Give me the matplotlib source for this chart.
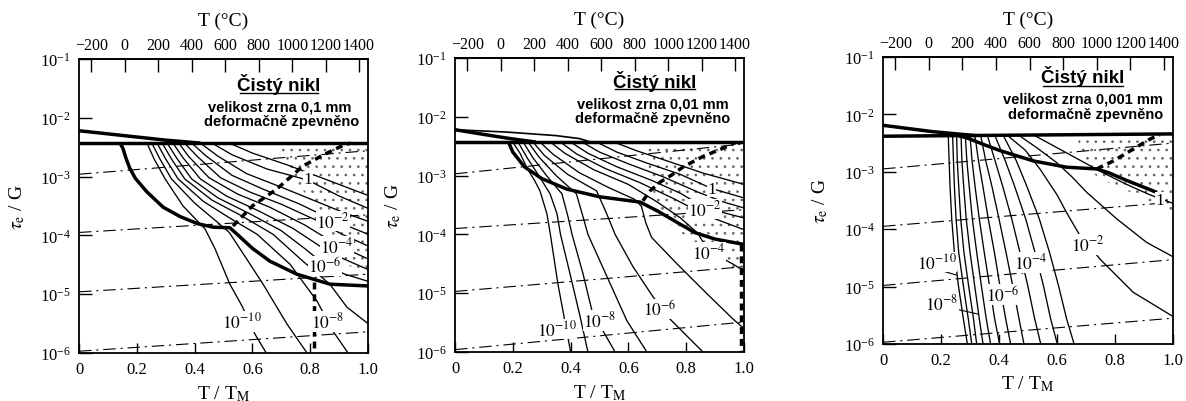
import matplotlib
matplotlib.use("Agg")
import matplotlib.pyplot as plt
from matplotlib.ticker import FixedLocator, NullLocator, LogFormatterMathtext

plt.rcParams['font.family'] = ['Liberation Serif', 'DejaVu Serif']
plt.rcParams['mathtext.fontset'] = 'stix'
plt.rcParams['lines.scale_dashes'] = False
plt.rcParams['hatch.linewidth'] = 0.7

# ---------------- common axis data ----------------
T_MELT_K = 1726.0
CELSIUS_TICKS = [-200, 0, 200, 400, 600, 800, 1000, 1200, 1400]
XTICKS = [0, 0.2, 0.4, 0.6, 0.8, 1.0]
XTICK_LABELS = ['0', '0.2', '0.4', '0.6', '0.8', '1.0']
Y_DECADES = [1e-6, 1e-5, 1e-4, 1e-3, 1e-2, 1e-1]
TITLE = 'Čistý nikl'
GRAIN_TEXT = ['velikost zrna 0,1 mm', 'velikost zrna 0,01 mm', 'velikost zrna 0,001 mm']
STATE_TEXT = 'deformačně zpevněno'

# points are (T/TM, log10(tau/G))
# ---------------- panel 1 (0.1 mm) ----------------
P1_HORIZ = [(0.0, -2.43), (1.0, -2.43)]
P1_WEDGE = [(0.0, -2.22), (0.15, -2.30), (0.30, -2.38), (0.42, -2.43)]
P1_BOUNDARY = [(0.142, -2.43), (0.152, -2.52), (0.162, -2.68), (0.175, -2.85), (0.195, -3.03),
               (0.235, -3.26), (0.291, -3.52), (0.35, -3.68), (0.41, -3.80), (0.464, -3.86),
               (0.522, -3.87), (0.547, -3.98), (0.60, -4.22), (0.661, -4.44), (0.754, -4.66),
               (0.869, -4.83), (1.0, -4.86)]
P1_DASHED = [(0.533, -3.84), (0.60, -3.50), (0.685, -3.21), (0.775, -2.82), (0.85, -2.62),
             (0.913, -2.47), (0.94, -2.43)]
P1_VDASH = [(0.813, -4.80), (0.813, -6.0)]
P1_DASHDOT = [[(0, -2.96), (1, -2.56)], [(0, -3.95), (1, -3.65)],
              [(0, -4.96), (1, -4.66)], [(0, -5.97), (1, -5.64)]]
P1_STIPPLE = [(0.68, -2.43), (1.0, -2.43), (1.0, -4.72), (0.93, -4.5), (0.87, -3.95),
              (0.80, -3.40), (0.73, -2.95), (0.69, -2.6)]
P1_CONTOURS = [
    [(0.235, -2.43), (0.26, -2.70), (0.298, -3.04), (0.36, -3.50), (0.436, -3.89), (0.471, -4.23),
     (0.522, -4.83), (0.564, -5.20), (0.609, -5.68), (0.648, -6.0)],
    [(0.252, -2.43), (0.28, -2.70), (0.32, -3.04), (0.40, -3.45), (0.48, -3.78), (0.52, -3.95),
     (0.58, -4.40), (0.637, -4.83), (0.72, -5.51), (0.789, -6.0)],
    [(0.270, -2.43), (0.30, -2.70), (0.343, -3.04), (0.43, -3.42), (0.52, -3.70), (0.616, -3.98),
     (0.73, -4.49), (0.824, -5.12), (0.879, -5.63), (0.931, -6.0)],
    [(0.288, -2.43), (0.32, -2.70), (0.366, -3.04), (0.46, -3.40), (0.56, -3.66), (0.671, -3.98),
     (0.775, -4.44), (0.868, -4.83), (0.927, -5.22), (1.0, -5.50)],
    [(0.305, -2.43), (0.34, -2.70), (0.39, -3.04), (0.48, -3.36), (0.59, -3.63), (0.70, -3.92),
     (0.78, -4.22), (0.851, -4.50), (0.92, -4.66), (1.0, -4.78)],
    [(0.325, -2.43), (0.36, -2.68), (0.42, -3.04), (0.51, -3.33), (0.62, -3.58), (0.74, -3.88),
     (0.87, -4.30), (1.0, -4.58)],
    [(0.345, -2.43), (0.38, -2.66), (0.45, -3.02), (0.55, -3.30), (0.66, -3.52), (0.78, -3.82),
     (0.893, -4.16), (1.0, -4.40)],
    [(0.365, -2.43), (0.41, -2.66), (0.49, -3.02), (0.59, -3.26), (0.70, -3.47), (0.82, -3.74),
     (0.91, -3.98), (1.0, -4.18)],
    [(0.39, -2.43), (0.44, -2.65), (0.53, -2.98), (0.64, -3.22), (0.76, -3.46), (0.879, -3.74),
     (1.0, -3.98)],
    [(0.42, -2.43), (0.48, -2.65), (0.58, -2.95), (0.70, -3.18), (0.82, -3.42), (0.92, -3.62),
     (1.0, -3.76)],
    [(0.46, -2.43), (0.53, -2.63), (0.65, -2.87), (0.792, -3.06), (0.90, -3.33), (1.0, -3.54)],
    [(0.52, -2.43), (0.60, -2.60), (0.72, -2.80), (0.85, -3.04), (1.0, -3.32)],
]
P1_LABELS = [('1', 0.792, -3.04), ('$10^{-2}$', 0.879, -3.755), ('$10^{-4}$', 0.893, -4.18),
             ('$10^{-6}$', 0.851, -4.52), ('$10^{-8}$', 0.862, -5.46), ('$10^{-10}$', 0.564, -5.47)]

# ---------------- panel 2 (0.01 mm) ----------------
P2_HORIZ = [(0.0, -2.43), (1.0, -2.43)]
P2_WEDGE = [(0.0, -2.22), (0.10, -2.30), (0.19, -2.37), (0.28, -2.43)]
P2_LENS = [(0.0, -2.22), (0.18, -2.26), (0.35, -2.32), (0.43, -2.37), (0.47, -2.43)]
P2_BOUNDARY = [(0.185, -2.43), (0.20, -2.60), (0.24, -2.85), (0.30, -3.05), (0.387, -3.23),
               (0.50, -3.36), (0.64, -3.45), (0.70, -3.60), (0.77, -3.80), (0.83, -3.97),
               (0.90, -4.08), (1.0, -4.17)]
P2_DASHED = [(0.65, -3.43), (0.675, -3.26), (0.71, -3.11), (0.75, -2.99), (0.79, -2.85),
             (0.86, -2.67), (0.92, -2.55), (0.97, -2.44)]
P2_VDASH = [(0.988, -4.17), (0.988, -6.0)]
P2_DASHDOT = [[(0, -2.97), (1, -2.46)], [(0, -3.90), (1, -3.58)],
              [(0, -4.97), (1, -4.55)], [(0, -5.96), (1, -5.49)]]
P2_STIPPLE = [(0.66, -2.43), (1.0, -2.43), (1.0, -4.75), (0.95, -4.55), (0.85, -4.2),
              (0.76, -3.9), (0.70, -3.5), (0.67, -3.0)]
P2_CONTOURS = [
    [(0.20, -2.43), (0.225, -2.62), (0.25, -2.88), (0.275, -3.08), (0.294, -3.26), (0.318, -3.65),
     (0.33, -4.0), (0.356, -4.84), (0.38, -5.47), (0.40, -6.0)],
    [(0.218, -2.43), (0.25, -2.70), (0.29, -3.00), (0.329, -3.31), (0.353, -3.65), (0.365, -4.0),
     (0.398, -4.67), (0.433, -5.40), (0.46, -6.0)],
    [(0.236, -2.43), (0.27, -2.70), (0.32, -3.02), (0.37, -3.31), (0.391, -3.70), (0.405, -4.0),
     (0.443, -4.67), (0.474, -5.30), (0.512, -5.64), (0.554, -6.0)],
    [(0.253, -2.43), (0.29, -2.68), (0.35, -3.00), (0.42, -3.31), (0.443, -3.70), (0.46, -4.0),
     (0.526, -4.72), (0.595, -5.47), (0.664, -6.0)],
    [(0.27, -2.43), (0.31, -2.66), (0.39, -2.98), (0.49, -3.26), (0.525, -3.65), (0.554, -4.0),
     (0.616, -4.55), (0.685, -5.06), (0.744, -5.44), (0.858, -6.0)],
    [(0.294, -2.43), (0.34, -2.64), (0.43, -2.95), (0.53, -3.20), (0.62, -3.40), (0.645, -3.52),
     (0.66, -3.80), (0.68, -4.05), (0.768, -4.50), (0.872, -5.01), (0.962, -5.44), (1.0, -5.60)],
    [(0.33, -2.43), (0.38, -2.62), (0.48, -2.90), (0.60, -3.15), (0.70, -3.45), (0.78, -3.72),
     (0.84, -3.98), (0.877, -4.28), (0.96, -4.50), (1.0, -4.62)],
    [(0.365, -2.43), (0.42, -2.63), (0.52, -2.88), (0.64, -3.12), (0.76, -3.40), (0.87, -3.68),
     (1.0, -3.92)],
    [(0.40, -2.43), (0.46, -2.62), (0.56, -2.85), (0.68, -3.08), (0.78, -3.30), (0.865, -3.55),
     (1.0, -3.72)],
    [(0.44, -2.43), (0.50, -2.60), (0.60, -2.80), (0.72, -3.02), (0.84, -3.28), (0.93, -3.45),
     (1.0, -3.55)],
    [(0.49, -2.43), (0.56, -2.60), (0.66, -2.78), (0.78, -2.98), (0.888, -3.22), (1.0, -3.38)],
    [(0.55, -2.43), (0.63, -2.58), (0.74, -2.76), (0.86, -2.96), (1.0, -3.15)],
]
P2_LABELS = [('1', 0.888, -3.228), ('$10^{-2}$', 0.865, -3.568), ('$10^{-4}$', 0.877, -4.305),
             ('$10^{-6}$', 0.709, -5.27), ('$10^{-8}$', 0.502, -5.47), ('$10^{-10}$', 0.352, -5.61)]

# ---------------- panel 3 (0.001 mm) ----------------
P3_HORIZ = [(0.0, -2.38), (1.0, -2.34)]
P3_WEDGE = [(0.0, -2.19), (0.17, -2.30), (0.32, -2.37)]
P3_BOUNDARY = [(0.26, -2.37), (0.29, -2.41), (0.35, -2.53), (0.403, -2.63), (0.518, -2.81),
               (0.633, -2.92), (0.737, -2.95), (0.78, -3.02), (0.84, -3.15), (0.945, -3.36)]
P3_DASHED = [(0.737, -2.95), (0.795, -2.81), (0.864, -2.60), (0.921, -2.43), (0.955, -2.35)]
P3_DASHDOT = [[(0, -2.95), (1, -2.50)], [(0, -3.95), (1, -3.53)],
              [(0, -4.98), (1, -4.53)], [(0, -5.97), (1, -5.55)]]
P3_STIPPLE = [(0.67, -2.35), (1.0, -2.34), (1.0, -3.70), (0.93, -3.55), (0.85, -3.35),
              (0.76, -3.15), (0.70, -2.95), (0.68, -2.70)]
P3_STEEP_LEVELS = [-2.37, -2.80, -3.24, -3.82, -4.40, -4.98, -5.56, -6.0]
P3_STEEP_X = [
    [0.225, 0.228, 0.231, 0.237, 0.246, 0.260, 0.277, 0.291],
    [0.240, 0.243, 0.246, 0.252, 0.261, 0.277, 0.294, 0.306],
    [0.254, 0.256, 0.261, 0.268, 0.279, 0.295, 0.312, 0.323],
    [0.269, 0.272, 0.278, 0.287, 0.300, 0.316, 0.332, 0.345],
    [0.284, 0.289, 0.297, 0.308, 0.323, 0.339, 0.356, 0.371],
    [0.300, 0.307, 0.317, 0.332, 0.349, 0.367, 0.385, 0.402],
    [0.317, 0.329, 0.344, 0.363, 0.384, 0.403, 0.423, 0.440],
    [0.337, 0.354, 0.375, 0.400, 0.424, 0.447, 0.469, 0.486],
    [0.360, 0.386, 0.412, 0.444, 0.472, 0.499, 0.523, 0.544],
    [0.386, 0.421, 0.453, 0.492, 0.524, 0.553, 0.578, 0.601],
    [0.415, 0.459, 0.495, 0.539, 0.574, 0.605, 0.633, 0.659],
]
P3_CONTOURS = [
    [(0.43, -2.37), (0.49, -2.62), (0.541, -2.95), (0.60, -3.40), (0.633, -3.71), (0.679, -4.11),
     (0.714, -4.30), (0.748, -4.52), (0.863, -5.10), (1.0, -5.52)],
    [(0.47, -2.37), (0.53, -2.58), (0.599, -2.84), (0.65, -3.08), (0.703, -3.36), (0.806, -3.82),
     (0.909, -4.23), (1.0, -4.48)],
    [(0.52, -2.36), (0.60, -2.58), (0.68, -2.80), (0.76, -3.02), (0.84, -3.22), (0.92, -3.40),
     (1.0, -3.55)],
]
P3_LEADERS = [[(0.20, -4.72), (0.254, -4.80)], [(0.25, -5.39), (0.329, -5.48)]]
P3_LABELS = [('$10^{-10}$', 0.185, -4.57), ('$10^{-8}$', 0.203, -5.30), ('$10^{-6}$', 0.412, -5.14),
             ('$10^{-4}$', 0.51, -4.58), ('$10^{-2}$', 0.706, -4.27), ('1', 0.955, -3.50)]

# ---------------- layout (pixels: left, top, right, bottom) ----------------
W, H = 1186, 402
AX_PIX = [(79, 60, 368, 354), (455, 59, 744, 353), (883, 58, 1173, 345)]
TEXT_POS = [  # (title, grain, state, underline y, underline x0, x1) in axes fraction
    ((0.692, 0.915), (0.696, 0.837), (0.701, 0.789), 0.884, 0.557, 0.827),
    ((0.692, 0.922), (0.685, 0.844), (0.685, 0.796), 0.893, 0.554, 0.830),
    ((0.690, 0.934), (0.690, 0.854), (0.697, 0.800), 0.899, 0.552, 0.828),
]


def xy(pts):
    return [p[0] for p in pts], [10 ** p[1] for p in pts]


def draw(ax, pts, **kw):
    x, y = xy(pts)
    ax.plot(x, y, solid_capstyle='butt', **kw)


THIN = dict(color='black', lw=0.95, zorder=3)
THICK = dict(color='black', lw=2.5, zorder=4)
DASHDOT = dict(color='black', lw=0.8, linestyle=(0, (9, 3.5, 1.5, 3.5)), zorder=2)
TDASH = dict(color='black', lw=2.5, linestyle=(0, (5, 3.5)), zorder=4)

fig = plt.figure(figsize=(W / 100, H / 100), dpi=100)
axes = []
for (l, t, r, b) in AX_PIX:
    axes.append(fig.add_axes([l / W, 1 - b / H, (r - l) / W, (b - t) / H]))


def to_c(x):
    return x * T_MELT_K - 273.0


def to_frac(t):
    return (t + 273.0) / T_MELT_K


for i, ax in enumerate(axes):
    ax.set_xlim(0, 1)
    ax.set_yscale('log')
    ax.set_ylim(1e-6, 1e-1)
    ax.yaxis.set_major_locator(FixedLocator(Y_DECADES))
    ax.yaxis.set_minor_locator(NullLocator())
    ax.yaxis.set_major_formatter(LogFormatterMathtext())
    ax.set_xticks(XTICKS)
    ax.set_xticklabels(XTICK_LABELS)
    ax.tick_params(axis='y', direction='in', length=9, width=1.0, pad=6, labelsize=12, right=False)
    ax.tick_params(axis='x', direction='in', length=7, width=1.0, pad=6, labelsize=12, top=False)
    for s in ax.spines.values():
        s.set_linewidth(1.3)
    sec = ax.secondary_xaxis('top', functions=(to_c, to_frac))
    sec.set_xticks(CELSIUS_TICKS)
    sec.set_xticklabels([str(c).replace('-', '\u2212') for c in CELSIUS_TICKS])
    sec.tick_params(direction='in', length=9, width=1.0, pad=4, labelsize=11.5)
    sec.spines['top'].set_linewidth(1.3)
    ax.text(0.5, 1.13, 'T (°C)', transform=ax.transAxes, ha='center', va='center', fontsize=14)
    ax.text(0.5, -0.135, r'T / T$_\mathrm{M}$', transform=ax.transAxes, ha='center', va='center',
            fontsize=14)
    ax.text(-0.215, 0.5, r'$\tau_\mathrm{e}$ / G', transform=ax.transAxes, ha='center',
            va='center', rotation=90, fontsize=14)
    tp, gp, sp, uy, ux0, ux1 = TEXT_POS[i]
    sans = ['Liberation Sans', 'DejaVu Sans']
    ax.text(*tp, TITLE, transform=ax.transAxes, ha='center', va='center', fontsize=13.5,
            fontweight='bold', family=sans)
    ax.plot([ux0, ux1], [uy, uy], transform=ax.transAxes, color='black', lw=1.0)
    ax.text(*gp, GRAIN_TEXT[i], transform=ax.transAxes, ha='center', va='center', fontsize=10.5,
            fontweight='bold', family=sans)
    ax.text(*sp, STATE_TEXT, transform=ax.transAxes, ha='center', va='center', fontsize=10.5,
            fontweight='bold', family=sans)


def stipple(ax, pts):
    x, y = xy(pts)
    ax.fill(x, y, facecolor='none', edgecolor='0.4', hatch='..', linewidth=0, zorder=1)


def labels(ax, items):
    for s, x, ly in items:
        ax.text(x, 10 ** ly, s, ha='center', va='center', fontsize=12.5, zorder=6,
                bbox=dict(facecolor='white', edgecolor='none', pad=0.3))


# panel 1
ax = axes[0]
stipple(ax, P1_STIPPLE)
for d in P1_DASHDOT:
    draw(ax, d, **DASHDOT)
for c in P1_CONTOURS:
    draw(ax, c, **THIN)
draw(ax, P1_HORIZ, **THICK)
draw(ax, P1_WEDGE, **THICK)
draw(ax, P1_BOUNDARY, **THICK)
draw(ax, P1_DASHED, **TDASH)
draw(ax, P1_VDASH, **TDASH)
labels(ax, P1_LABELS)

# panel 2
ax = axes[1]
stipple(ax, P2_STIPPLE)
for d in P2_DASHDOT:
    draw(ax, d, **DASHDOT)
for c in P2_CONTOURS:
    draw(ax, c, **THIN)
draw(ax, P2_LENS, color='black', lw=1.2, zorder=4)
draw(ax, P2_HORIZ, **THICK)
draw(ax, P2_WEDGE, **THICK)
draw(ax, P2_BOUNDARY, **THICK)
draw(ax, P2_DASHED, **TDASH)
draw(ax, P2_VDASH, **TDASH)
labels(ax, P2_LABELS)

# panel 3
ax = axes[2]
stipple(ax, P3_STIPPLE)
for d in P3_DASHDOT:
    draw(ax, d, **DASHDOT)
for xs in P3_STEEP_X:
    draw(ax, list(zip(xs, P3_STEEP_LEVELS)), **THIN)
for c in P3_CONTOURS:
    draw(ax, c, **THIN)
for ld in P3_LEADERS:
    draw(ax, ld, color='black', lw=0.8, zorder=3)
draw(ax, P3_HORIZ, **THICK)
draw(ax, P3_WEDGE, **THICK)
draw(ax, P3_BOUNDARY, **THICK)
draw(ax, P3_DASHED, **TDASH)
labels(ax, P3_LABELS)

fig.savefig('out.png', dpi=100, facecolor='white')
